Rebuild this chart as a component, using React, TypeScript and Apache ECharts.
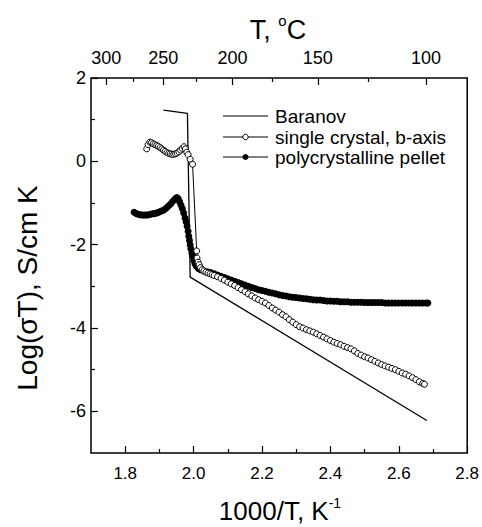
import React, { useEffect, useRef } from 'react';
import * as echarts from 'echarts';

const FONT = '"Liberation Sans", Arial, Helvetica, sans-serif';

// Tick values
const bottomTicks = [1.8, 2.0, 2.2, 2.4, 2.6, 2.8];
const bottomMinorTicks = [1.9, 2.1, 2.3, 2.5, 2.7];
const yTicks = [-6, -4, -2, 0, 2];
const yMinorTicks = [-5, -3, -1, 1];
const topTempsC = [300, 250, 200, 150, 100];
const topMinorTempsC = [275, 225, 175, 125];

// Legend entries
const legendNames = ['Baranov', 'single crystal, b-axis', 'polycrystalline pellet'];

// Baranov (line)
const baranovX = [1.912, 1.982, 1.990, 2.682];
const baranovY = [1.23, 1.15, -2.78, -6.22];

// single crystal, b-axis
const singleX = [
  1.863, 1.867, 1.872, 1.877, 1.882, 1.887, 1.892, 1.897, 1.902, 1.907,
  1.912, 1.917, 1.922, 1.927, 1.932, 1.937, 1.942, 1.947, 1.952, 1.957,
  1.962, 1.967, 1.972, 1.976, 1.980, 1.984, 1.990, 1.997, 2.009, 2.010,
  2.013, 2.016, 2.020, 2.025, 2.030, 2.036, 2.042, 2.048, 2.054, 2.060,
  2.07, 2.08, 2.09, 2.10, 2.11, 2.12, 2.13, 2.14, 2.15, 2.16,
  2.17, 2.18, 2.19, 2.20, 2.21, 2.22, 2.23, 2.24, 2.25, 2.26,
  2.27, 2.28, 2.29, 2.30, 2.31, 2.32, 2.33, 2.34, 2.35, 2.36,
  2.37, 2.38, 2.39, 2.40, 2.41, 2.42, 2.43, 2.44, 2.45, 2.46,
  2.47, 2.48, 2.49, 2.50, 2.51, 2.52, 2.53, 2.54, 2.55, 2.56,
  2.57, 2.58, 2.59, 2.60, 2.61, 2.62, 2.63, 2.64, 2.65, 2.66,
  2.67, 2.675,
];
const singleY = [
  0.30, 0.40, 0.46, 0.45, 0.42, 0.40, 0.38, 0.36, 0.33, 0.30,
  0.27, 0.24, 0.21, 0.19, 0.18, 0.17, 0.17, 0.18, 0.20, 0.23,
  0.27, 0.31, 0.35, 0.30, 0.22, 0.16, 0.05, -0.07, -2.15, -2.32,
  -2.42, -2.48, -2.55, -2.60, -2.63, -2.66, -2.68, -2.70, -2.72, -2.74,
  -2.77, -2.81, -2.85, -2.90, -2.94, -2.98, -3.03, -3.08, -3.13, -3.18,
  -3.23, -3.28, -3.32, -3.36, -3.40, -3.46, -3.52, -3.57, -3.62, -3.68,
  -3.73, -3.80, -3.86, -3.92, -3.97, -4.00, -4.04, -4.07, -4.10, -4.14,
  -4.18, -4.22, -4.26, -4.30, -4.34, -4.37, -4.40, -4.44, -4.47, -4.50,
  -4.55, -4.61, -4.65, -4.69, -4.72, -4.76, -4.80, -4.84, -4.88, -4.91,
  -4.94, -4.97, -5.00, -5.04, -5.08, -5.11, -5.15, -5.19, -5.24, -5.29,
  -5.33, -5.35,
];

// polycrystalline pellet
const polyX = [
  1.826, 1.832, 1.838, 1.844, 1.850, 1.856, 1.862, 1.868, 1.874, 1.880,
  1.886, 1.892, 1.898, 1.904, 1.910, 1.916, 1.922, 1.928, 1.934, 1.940,
  1.946, 1.951, 1.955, 1.959, 1.963, 1.967, 1.971, 1.975, 1.978, 1.981,
  1.984, 1.986, 1.988, 1.990, 1.992, 1.995, 1.998, 2.001, 2.004, 2.008,
  2.014, 2.020, 2.03, 2.04, 2.05, 2.06, 2.07, 2.08, 2.09, 2.10,
  2.11, 2.12, 2.13, 2.14, 2.15, 2.16, 2.17, 2.18, 2.19, 2.20,
  2.21, 2.22, 2.23, 2.24, 2.25, 2.26, 2.27, 2.28, 2.29, 2.30,
  2.31, 2.32, 2.33, 2.34, 2.35, 2.36, 2.37, 2.38, 2.39, 2.40,
  2.41, 2.42, 2.43, 2.44, 2.45, 2.46, 2.47, 2.48, 2.49, 2.50,
  2.51, 2.52, 2.53, 2.54, 2.55, 2.56, 2.57, 2.58, 2.59, 2.60,
  2.61, 2.62, 2.63, 2.64, 2.65, 2.66, 2.67, 2.68, 2.685,
];
const polyY = [
  -1.22, -1.25, -1.27, -1.28, -1.29, -1.29, -1.29, -1.28, -1.27, -1.26,
  -1.25, -1.24, -1.22, -1.20, -1.18, -1.15, -1.11, -1.06, -1.01, -0.95,
  -0.90, -0.87, -0.90, -0.97, -1.05, -1.13, -1.24, -1.36, -1.45, -1.56,
  -1.68, -1.80, -1.90, -2.00, -2.10, -2.20, -2.28, -2.38, -2.46, -2.52,
  -2.57, -2.60, -2.63, -2.65, -2.67, -2.70, -2.73, -2.76, -2.79, -2.82,
  -2.85, -2.88, -2.91, -2.94, -2.97, -3.00, -3.03, -3.05, -3.08, -3.10,
  -3.12, -3.14, -3.16, -3.18, -3.20, -3.22, -3.23, -3.25, -3.26, -3.27,
  -3.28, -3.29, -3.30, -3.31, -3.32, -3.33, -3.33, -3.34, -3.35, -3.35,
  -3.36, -3.36, -3.37, -3.37, -3.37, -3.38, -3.38, -3.38, -3.38, -3.39,
  -3.39, -3.39, -3.39, -3.39, -3.39, -3.40, -3.40, -3.40, -3.40, -3.40,
  -3.40, -3.40, -3.40, -3.40, -3.40, -3.40, -3.40, -3.40, -3.40,
];

const zip = (xs: number[], ys: number[]) => xs.map((x, i) => [x, ys[i]]);
const inv = (tC: number) => 1000 / (tC + 273.15);

const tickStyle = { color: '#000', width: 1.2 };
const noLine = { show: false, onZero: false };

// legend drawn as graphic (layout only)
const legendRowY = [116, 137, 157];
const legendGraphic: any[] = [];
legendNames.forEach((name, i) => {
  const y = legendRowY[i];
  legendGraphic.push({
    type: 'line', shape: { x1: 223, y1: y, x2: 268, y2: y },
    style: { stroke: '#000', lineWidth: 1 }, silent: true,
  });
  if (i === 1) {
    legendGraphic.push({ type: 'circle', shape: { cx: 245.5, cy: y, r: 2.7 }, style: { fill: '#fff', stroke: '#000', lineWidth: 1 } });
  }
  if (i === 2) {
    legendGraphic.push({ type: 'circle', shape: { cx: 245.5, cy: y, r: 3 }, style: { fill: '#000' } });
  }
  legendGraphic.push({
    type: 'text', x: 275, y,
    style: { text: name, fill: '#000', fontSize: 19, fontFamily: FONT, align: 'left', verticalAlign: 'middle' },
  });
});

const option: any = {
  animation: false,
  backgroundColor: '#fff',
  grid: {
    left: 91, right: 14, top: 78, bottom: 74,
    show: true, borderColor: '#000', borderWidth: 1.5, backgroundColor: 'transparent',
  },
  xAxis: [
    {
      type: 'value', position: 'bottom', min: 1.7, max: 2.8,
      axisLine: noLine, splitLine: { show: false },
      axisTick: { inside: true, length: 7, customValues: bottomTicks, lineStyle: tickStyle },
      axisLabel: {
        customValues: bottomTicks, formatter: (v: number) => v.toFixed(1),
        fontSize: 17, fontFamily: FONT, color: '#000', margin: 12,
      },
    },
    {
      type: 'value', position: 'bottom', min: 1.7, max: 2.8,
      axisLine: noLine, splitLine: { show: false },
      axisTick: { inside: true, length: 4, customValues: bottomMinorTicks, lineStyle: tickStyle },
      axisLabel: { show: false },
    },
    {
      type: 'value', position: 'top', min: 1.7, max: 2.8,
      axisLine: noLine, splitLine: { show: false },
      axisTick: { inside: true, length: 7, customValues: topTempsC.map(inv), lineStyle: tickStyle },
      axisLabel: {
        customValues: topTempsC.map(inv), formatter: (v: number) => String(Math.round(1000 / v - 273.15)),
        fontSize: 18, fontFamily: FONT, color: '#000', margin: 11,
      },
    },
    {
      type: 'value', position: 'top', min: 1.7, max: 2.8,
      axisLine: noLine, splitLine: { show: false },
      axisTick: { inside: true, length: 4, customValues: topMinorTempsC.map(inv), lineStyle: tickStyle },
      axisLabel: { show: false },
    },
  ],
  yAxis: [
    {
      type: 'value', position: 'left', min: -7, max: 2,
      axisLine: noLine, splitLine: { show: false },
      axisTick: { inside: true, length: 7, customValues: yTicks, lineStyle: tickStyle },
      axisLabel: {
        customValues: yTicks, fontSize: 18, fontFamily: FONT, color: '#000', margin: 5,
      },
    },
    {
      type: 'value', position: 'left', min: -7, max: 2,
      axisLine: noLine, splitLine: { show: false },
      axisTick: { inside: true, length: 4, customValues: yMinorTicks, lineStyle: tickStyle },
      axisLabel: { show: false },
    },
  ],
  graphic: [
    {
      type: 'text', x: 278, y: 28,
      style: {
        text: '{m|T, }{sup|o}{m|C}', fill: '#000', align: 'center', verticalAlign: 'middle',
        rich: {
          m: { fontSize: 27, fontFamily: FONT, fill: '#000', verticalAlign: 'bottom', lineHeight: 30 },
          sup: { fontSize: 15, fontFamily: FONT, verticalAlign: 'top', lineHeight: 30, fill: '#000' },
        },
      },
    },
    {
      type: 'text', x: 280, y: 510,
      style: {
        text: '{m|1000/T, K}{sup|-1}', fill: '#000', align: 'center', verticalAlign: 'middle',
        rich: {
          m: { fontSize: 26, fontFamily: FONT, fill: '#000', verticalAlign: 'bottom', lineHeight: 28 },
          sup: { fontSize: 14, fontFamily: FONT, verticalAlign: 'top', lineHeight: 28, fill: '#000' },
        },
      },
    },
    {
      type: 'text', x: 27, y: 288, rotation: Math.PI / 2,
      style: {
        text: 'Log(σT), S/cm K', fill: '#000', fontSize: 28, fontFamily: FONT, align: 'center', verticalAlign: 'middle',
      },
    },
    ...legendGraphic,
  ],
  series: [
    {
      name: 'polycrystalline pellet', type: 'line', data: zip(polyX, polyY),
      xAxisIndex: 0, yAxisIndex: 0,
      symbol: 'circle', symbolSize: 7, showAllSymbol: true,
      itemStyle: { color: '#000' }, lineStyle: { color: '#000', width: 1 },
    },
    {
      name: 'single crystal, b-axis', type: 'line', data: zip(singleX, singleY),
      xAxisIndex: 0, yAxisIndex: 0,
      symbol: 'circle', symbolSize: 6, showAllSymbol: true,
      itemStyle: { color: '#fff', borderColor: '#000', borderWidth: 1 },
      lineStyle: { color: '#000', width: 1 },
    },
    {
      name: 'Baranov', type: 'line', data: zip(baranovX, baranovY),
      xAxisIndex: 0, yAxisIndex: 0,
      symbol: 'none', itemStyle: { color: '#000' }, lineStyle: { color: '#000', width: 1.3 },
    },
  ],
};

export default function App() {
  const ref = useRef<HTMLDivElement>(null);
  useEffect(() => {
    const chart = echarts.init(ref.current!, null, { renderer: 'svg' });
    chart.setOption(option);
    return () => chart.dispose();
  }, []);
  return (
    <div
      ref={ref}
      style={{ position: 'fixed', left: 0, top: 0, width: 482, height: 527, background: '#fff' }}
    />
  );
}
